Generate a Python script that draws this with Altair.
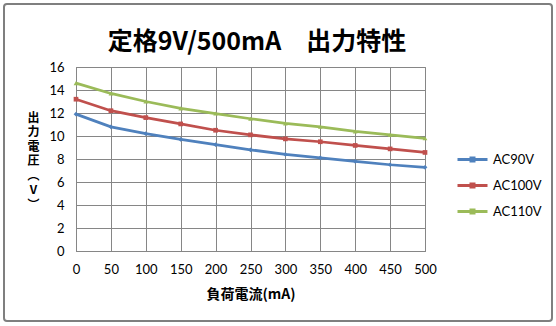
import altair as alt
import pandas as pd

currents = [0, 50, 100, 150, 200, 250, 300, 350, 400, 450, 500]
ac90 = [11.9, 10.8, 10.2, 9.7, 9.25, 8.8, 8.4, 8.1, 7.8, 7.5, 7.28]
ac100 = [13.2, 12.2, 11.6, 11.05, 10.5, 10.1, 9.75, 9.5, 9.18, 8.88, 8.57]
ac110 = [14.6, 13.7, 13.0, 12.4, 11.95, 11.5, 11.1, 10.8, 10.4, 10.1, 9.8]
series_names = ["AC90V", "AC100V", "AC110V"]
series_values = [ac90, ac100, ac110]
colors = ["#4F81BD", "#C0504D", "#9BBB59"]
shapes = ["diamond", "square", "triangle-up"]
y_ticks = [0, 2, 4, 6, 8, 10, 12, 14, 16]
title_text = "定格9V/500mA　出力特性"

rows = []
for name, vals in zip(series_names, series_values):
    for c, v in zip(currents, vals):
        rows.append({"current": c, "voltage": v, "series": name})
df = pd.DataFrame(rows)

font = "Lato"
cjk = "Noto Sans CJK JP"

x_axis = alt.Axis(
    values=currents,
    title="負荷電流(mA)",
    titleFont=cjk,
    titleFontSize=14,
    titleFontWeight="bold",
    titleColor="#000000",
    titlePadding=11,
    labelFont=font,
    labelFontSize=13,
    labelColor="#000000",
    labelPadding=12,
    labelOverlap=False,
    ticks=False,
    domainColor="#868686",
    gridColor="#868686",
    labelFlush=False,
)
y_axis = alt.Axis(
    values=y_ticks,
    title=["出", "力", "電", "圧", "︵", "V", "︶"],
    titleFont=cjk,
    titleFontSize=12,
    titleFontWeight="bold",
    titleColor="#000000",
    titleAngle=0,
    titleAlign="center",
    titleBaseline="top",
    titleX=-43,
    titleY=45,
    titleLineHeight=14.5,
    labelFont=font,
    labelFontSize=13,
    labelColor="#000000",
    labelPadding=12,
    labelOverlap=False,
    ticks=False,
    domainColor="#868686",
    gridColor="#868686",
)
x_scale = alt.Scale(domain=[0, 500], nice=False)
y_scale = alt.Scale(domain=[0, 16], nice=False)


def x_enc():
    return alt.X("current:Q", scale=x_scale, axis=x_axis)


def y_enc():
    return alt.Y("voltage:Q", scale=y_scale, axis=y_axis)


color_enc = alt.Color(
    "series:N",
    scale=alt.Scale(domain=series_names, range=colors),
    legend=alt.Legend(
        title=None,
        orient="none",
        legendX=385,
        legendY=81,
        symbolType="M-1.5,0H1.5M-0.15,-0.15H0.15V0.15H-0.15Z",
        symbolSize=400,
        symbolStrokeWidth=3,
        labelFont=font,
        labelFontSize=13,
        labelColor="#000000",
        labelOffset=9,
        rowPadding=7,
    ),
)

base = alt.Chart(pd.DataFrame({"t": [title_text]}))
border = base.mark_rect(
    fill=None, stroke="#7F7F7F", strokeWidth=2, cornerRadius=3
).encode(
    x=alt.value(-72), x2=alt.value(476), y=alt.value(-63), y2=alt.value(254)
)
title = base.mark_text(
    font=cjk, fontSize=25, fontWeight="bold", color="#000000",
    align="center", baseline="alphabetic",
).encode(text="t:N", x=alt.value(181), y=alt.value(-17))

lines = alt.Chart(df).mark_line(strokeWidth=2.75).encode(
    x=x_enc(), y=y_enc(), color=color_enc
)
point_layers = []
for name, col, shp in zip(series_names, colors, shapes):
    point_layers.append(
        alt.Chart(df)
        .transform_filter(alt.datum.series == name)
        .mark_point(filled=True, size=22, opacity=1, shape=shp, color=col)
        .encode(x=x_enc(), y=y_enc())
    )

chart = alt.layer(border, title, lines, *point_layers).properties(
    width=349,
    height=184,
    autosize=alt.AutoSizeParams(type="none"),
    padding={"left": 76, "top": 67, "right": 131, "bottom": 75},
    background="#FFFFFF",
).configure_view(stroke="#868686")

chart.save("out.html", embed_options={"renderer": "svg", "actions": False})
